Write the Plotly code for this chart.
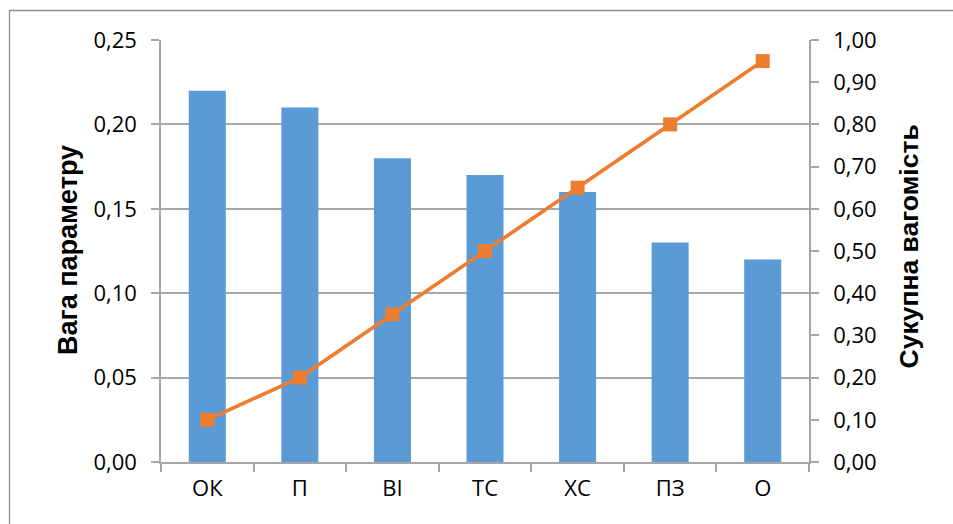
import plotly.graph_objects as go

categories = ["ОК", "П", "ВІ", "ТС", "ХС", "ПЗ", "О"]
weights = [0.22, 0.21, 0.18, 0.17, 0.16, 0.13, 0.12]
cumulative = [0.10, 0.20, 0.35, 0.50, 0.65, 0.80, 0.95]
left_title = "Вага параметру"
right_title = "Сукупна вагомість"

FONT = "Open Sans"
TFONT = "Liberation Sans"
W, H = 953, 524
L, R, T, B = 161, 144, 40, 62
pw, ph = W - L - R, H - T - B

fig = go.Figure()
fig.add_trace(go.Bar(x=categories, y=weights, marker=dict(color="#5B9BD5", line=dict(width=0)),
                     yaxis="y", showlegend=False))
fig.add_trace(go.Scatter(x=categories, y=cumulative, yaxis="y2", mode="lines+markers",
                         line=dict(color="#ED7D31", width=3.6),
                         marker=dict(symbol="square", size=14, color="#ED7D31"),
                         showlegend=False))

axis_col = "#a6a6a6"
fig.update_layout(
    width=W, height=H,
    margin=dict(l=L, r=R, t=T, b=B, autoexpand=False),
    paper_bgcolor="white", plot_bgcolor="white",
    separators=", ",
    bargap=0.6,
    font=dict(family=FONT, size=22, color="black"),
    xaxis=dict(showline=True, linecolor=axis_col, linewidth=1.5, ticks="outside",
               tickson="boundaries", ticklen=8, tickcolor=axis_col, tickwidth=1.5,
               ticklabelstandoff=6, showgrid=False),
    yaxis=dict(range=[0, 0.25], dtick=0.05, tickformat=".2f", showline=True,
               linecolor=axis_col, linewidth=1.5, ticks="outside", ticklen=8,
               tickcolor=axis_col, tickwidth=1.5, showgrid=True, gridcolor="#a8a8a8",
               gridwidth=1.5, zeroline=False, ticklabelstandoff=10),
    yaxis2=dict(range=[0, 1.0], dtick=0.1, tickformat=".2f", overlaying="y", side="right",
                showline=True, linecolor=axis_col, linewidth=1.5, ticks="outside",
                ticklen=8, tickcolor=axis_col, tickwidth=1.5, showgrid=False,
                zeroline=False, ticklabelstandoff=10),
)

fig.add_annotation(text=left_title, textangle=-90, xref="paper", yref="paper",
                   xanchor="center", yanchor="middle",
                   x=(68 - L) / pw, y=(462 - 250) / ph, showarrow=False,
                   font=dict(family=TFONT, size=27, color="black", weight="bold"))
fig.add_annotation(text=right_title, textangle=-90, xref="paper", yref="paper",
                   xanchor="center", yanchor="middle",
                   x=(908 - L) / pw, y=(462 - 246.5) / ph, showarrow=False,
                   font=dict(family=TFONT, size=26.5, color="black", weight="bold"))

fig.add_shape(type="rect", xref="paper", yref="paper",
              x0=(9.5 - L) / pw, x1=(970 - L) / pw,
              y0=-(H + 20 - T - ph) / ph, y1=1 + (T - 10.5) / ph,
              line=dict(color="#8c8c8c", width=1.3), fillcolor="rgba(0,0,0,0)", layer="below")

fig.write_html("out.html", config={"displayModeBar": False},
               post_script="document.body.style.margin='0';")
